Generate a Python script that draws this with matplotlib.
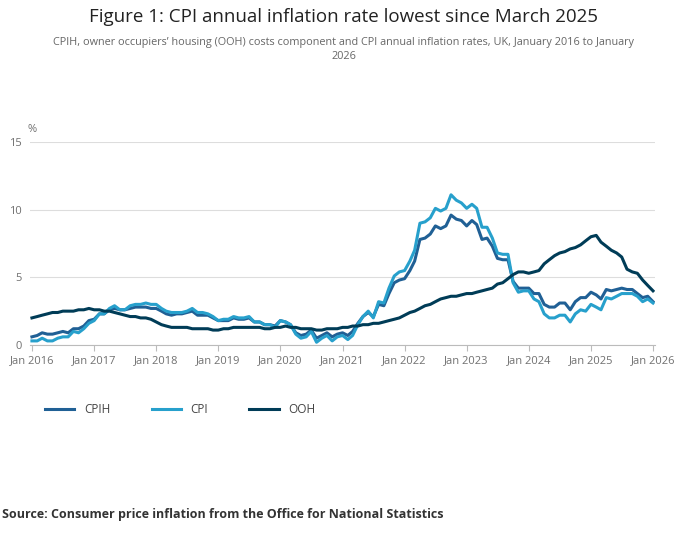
import matplotlib.pyplot as plt
import pandas as pd

plt.rcParams['font.family'] = ['Open Sans', 'DejaVu Sans']

# Monthly annual rates, Jan 2016 .. Jan 2026
cpih = [0.6, 0.7, 0.9, 0.8, 0.8, 0.9, 1.0, 0.9, 1.2, 1.2, 1.4, 1.8,
        1.9, 2.3, 2.3, 2.6, 2.7, 2.6, 2.6, 2.7, 2.8, 2.8, 2.8, 2.7,
        2.7, 2.5, 2.3, 2.2, 2.3, 2.3, 2.4, 2.5, 2.2, 2.2, 2.2, 2.0,
        1.8, 1.8, 1.8, 2.0, 1.9, 1.9, 2.0, 1.7, 1.7, 1.5, 1.5, 1.4,
        1.8, 1.7, 1.5, 0.9, 0.7, 0.8, 1.1, 0.5, 0.7, 0.9, 0.6, 0.8,
        0.9, 0.7, 1.0, 1.6, 2.1, 2.4, 2.1, 3.0, 2.9, 3.8, 4.6, 4.8,
        4.9, 5.5, 6.2, 7.8, 7.9, 8.2, 8.8, 8.6, 8.8, 9.6, 9.3, 9.2,
        8.8, 9.2, 8.9, 7.8, 7.9, 7.3, 6.4, 6.3, 6.3, 4.7, 4.2, 4.2,
        4.2, 3.8, 3.8, 3.0, 2.8, 2.8, 3.1, 3.1, 2.6, 3.2, 3.5, 3.5,
        3.9, 3.7, 3.4, 4.1, 4.0, 4.1, 4.2, 4.1, 4.1, 3.8, 3.5, 3.6,
        3.2]
cpi = [0.3, 0.3, 0.5, 0.3, 0.3, 0.5, 0.6, 0.6, 1.0, 0.9, 1.2, 1.6,
       1.8, 2.3, 2.3, 2.7, 2.9, 2.6, 2.6, 2.9, 3.0, 3.0, 3.1, 3.0,
       3.0, 2.7, 2.5, 2.4, 2.4, 2.4, 2.5, 2.7, 2.4, 2.4, 2.3, 2.1,
       1.8, 1.9, 1.9, 2.1, 2.0, 2.0, 2.1, 1.7, 1.7, 1.5, 1.5, 1.3,
       1.8, 1.7, 1.5, 0.8, 0.5, 0.6, 1.0, 0.2, 0.5, 0.7, 0.3, 0.6,
       0.7, 0.4, 0.7, 1.5, 2.1, 2.5, 2.0, 3.2, 3.1, 4.2, 5.1, 5.4,
       5.5, 6.2, 7.0, 9.0, 9.1, 9.4, 10.1, 9.9, 10.1, 11.1, 10.7, 10.5,
       10.1, 10.4, 10.1, 8.7, 8.7, 7.9, 6.8, 6.7, 6.7, 4.6, 3.9, 4.0,
       4.0, 3.4, 3.2, 2.3, 2.0, 2.0, 2.2, 2.2, 1.7, 2.3, 2.6, 2.5,
       3.0, 2.8, 2.6, 3.5, 3.4, 3.6, 3.8, 3.8, 3.8, 3.6, 3.2, 3.4,
       3.1]
ooh = [2.0, 2.1, 2.2, 2.3, 2.4, 2.4, 2.5, 2.5, 2.5, 2.6, 2.6, 2.7,
       2.6, 2.6, 2.5, 2.5, 2.4, 2.3, 2.2, 2.1, 2.1, 2.0, 2.0, 1.9,
       1.7, 1.5, 1.4, 1.3, 1.3, 1.3, 1.3, 1.2, 1.2, 1.2, 1.2, 1.1,
       1.1, 1.2, 1.2, 1.3, 1.3, 1.3, 1.3, 1.3, 1.3, 1.2, 1.2, 1.3,
       1.3, 1.4, 1.3, 1.3, 1.2, 1.2, 1.2, 1.1, 1.1, 1.2, 1.2, 1.2,
       1.3, 1.3, 1.4, 1.4, 1.5, 1.5, 1.6, 1.6, 1.7, 1.8, 1.9, 2.0,
       2.2, 2.4, 2.5, 2.7, 2.9, 3.0, 3.2, 3.4, 3.5, 3.6, 3.6, 3.7,
       3.8, 3.8, 3.9, 4.0, 4.1, 4.2, 4.5, 4.6, 4.9, 5.2, 5.4, 5.4,
       5.3, 5.4, 5.5, 6.0, 6.3, 6.6, 6.8, 6.9, 7.1, 7.2, 7.4, 7.7,
       8.0, 8.1, 7.6, 7.3, 7.0, 6.8, 6.5, 5.6, 5.4, 5.3, 4.8, 4.4,
       4.0]
months = pd.date_range('2016-01-01', periods=121, freq='MS')
tick_dates = pd.date_range('2016-01-01', '2026-01-01', freq='YS')
tick_labels = [f'Jan {d.year}' for d in tick_dates]

fig = plt.figure(figsize=(6.87, 5.34), dpi=100)
ax = fig.add_axes([0.044, 0.354, 0.909, 0.38])

ax.plot(months, cpih, color='#206095', lw=2.2, label='CPIH')
ax.plot(months, cpi, color='#27a0cc', lw=2.2, label='CPI')
ax.plot(months, ooh, color='#003c57', lw=2.2, label='OOH')

ax.set_ylim(0, 15)
ax.set_yticks([0, 5, 10, 15])
ax.set_xlim(months[0] - pd.Timedelta(days=10), months[-1] + pd.Timedelta(days=10))
ax.set_xticks(tick_dates)
ax.set_xticklabels(tick_labels)
ax.tick_params(axis='both', labelsize=8, colors='#707070')
ax.tick_params(axis='y', length=0, pad=6)
ax.tick_params(axis='x', length=4, color='#bbbbbb')
ax.grid(axis='y', color='#dddddd', lw=0.8)
for s in ['top', 'right', 'left']:
    ax.spines[s].set_visible(False)
ax.spines['bottom'].set_color('#bbbbbb')
ax.text(-0.005, 1.05, '%', transform=ax.transAxes, fontsize=8, color='#707070')

fig.text(0.5, 0.985, 'Figure 1: CPI annual inflation rate lowest since March 2025',
         ha='center', va='top', fontsize=13.5, color='#222222')
fig.text(0.5, 0.93, 'CPIH, owner occupiers\u2019 housing (OOH) costs component and CPI annual inflation rates, UK, January 2016 to January\n2026',
         ha='center', va='top', fontsize=7.8, color='#666666', linespacing=1.35)

fig.legend(loc='upper left', bbox_to_anchor=(0.05, 0.265), ncol=3, frameon=False,
           fontsize=8.5, handlelength=2.5, columnspacing=3.5, labelcolor='#444444')

fig.text(0.003, 0.03, 'Source: Consumer price inflation from the Office for National Statistics',
         fontsize=9, fontweight='bold', color='#333333')

fig.savefig('out.png', dpi=100)
